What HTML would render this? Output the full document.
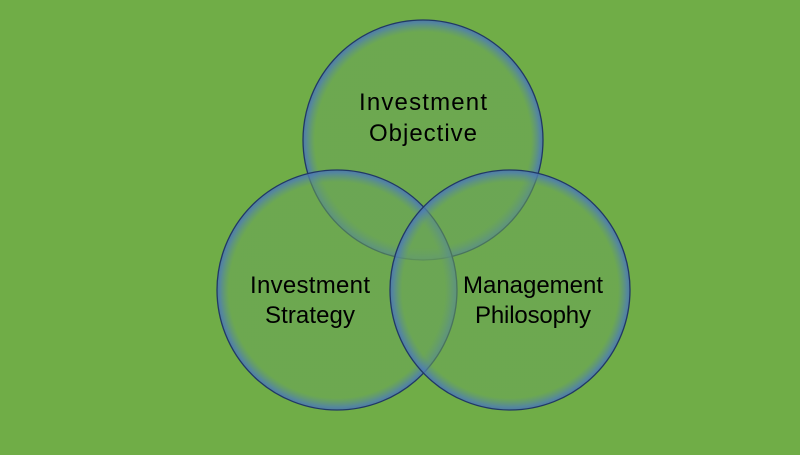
<!DOCTYPE html>
<html><head><style>
html,body{margin:0;padding:0;}
body{width:800px;height:450px;background:#70ad47;overflow:hidden;}
</style></head><body>
<svg width="800" height="450" xmlns="http://www.w3.org/2000/svg">
<defs>
<radialGradient id="g" cx="0.5" cy="0.5" r="0.5">
<stop offset="0" stop-color="#6aa458" stop-opacity="0.55"/>
<stop offset="0.9" stop-color="#6aa458" stop-opacity="0.55"/>
<stop offset="0.975" stop-color="#4f7fb0" stop-opacity="0.8"/>
<stop offset="1" stop-color="#4a74b0" stop-opacity="0.9"/>
</radialGradient>
</defs>
<rect width="800" height="450" fill="#70ad47"/>
<circle cx="423" cy="140" r="120" fill="url(#g)" stroke="#203864" stroke-width="1.3"/>
<circle cx="337" cy="290" r="120" fill="url(#g)" stroke="#203864" stroke-width="1.3"/>
<circle cx="510" cy="290" r="120" fill="url(#g)" stroke="#203864" stroke-width="1.3"/>
<g font-family="Liberation Sans, sans-serif" font-size="24" fill="#000" text-anchor="middle">
<text x="423" y="110" textLength="128">Investment</text>
<text x="423" y="141" textLength="108">Objective</text>
<text x="310" y="293" textLength="120">Investment</text>
<text x="310" y="323" textLength="90">Strategy</text>
<text x="533" y="293" textLength="140">Management</text>
<text x="533" y="323" textLength="116">Philosophy</text>
</g>
</svg>
</body></html>
